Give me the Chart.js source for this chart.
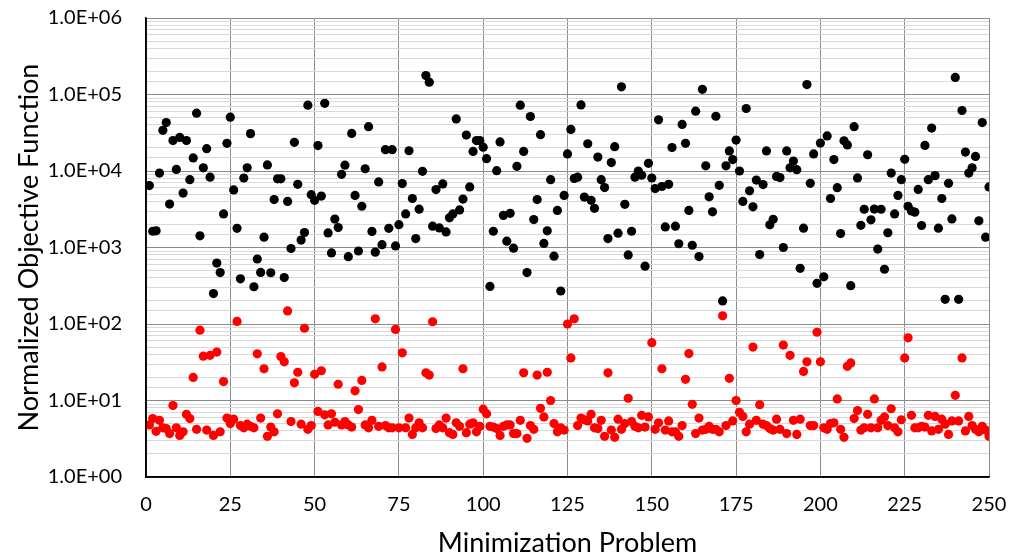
<!DOCTYPE html>
<html>
<head>
<meta charset="utf-8">
<script src="https://cdn.jsdelivr.net/npm/chart.js@4.4.1/dist/chart.umd.min.js"></script>
<style>
  html, body { margin: 0; padding: 0; background: #fff; }
  #wrap { width: 1010px; height: 559px; }
</style>
</head>
<body>
<div id="wrap"><canvas id="chart" width="1010" height="559"></canvas></div>
<script>
// problems 1..250, objective values per problem (two runs)
const objBlack = [
  6450, 1630, 1650, 9400, 34000, 43000, 3700, 25000, 10500, 27500,
  5150, 25000, 7700, 14800, 57000, 1420, 11000, 19600, 8300, 250,
  625, 470, 2750, 23000, 50500, 5650, 1780, 390, 8100, 11000,
  30800, 307, 707, 472, 1365, 12000, 468, 4230, 7900, 7900,
  405, 4000, 970, 23700, 6700, 1250, 1570, 72600, 4900, 4140,
  21500, 4700, 76600, 1550, 850, 2350, 1820, 9060, 11900, 758,
  31000, 4800, 900, 3460, 10700, 38000, 1620, 870, 7200, 1090,
  19000, 1780, 19000, 1050, 1990, 6840, 2750, 18400, 4370, 1310,
  3170, 9900, 177000, 145000, 1900, 5720, 1800, 6770, 1600, 2440,
  2750, 48000, 3100, 4300, 29500, 6200, 18000, 25000, 25000, 20500,
  14500, 310, 1630, 10100, 24000, 2630, 1210, 2800, 980, 11500,
  72600, 18000, 470, 51600, 2320, 4230, 29800, 1130, 1650, 7700,
  770, 3050, 270, 4800, 16700, 35000, 8000, 8300, 73000, 4560,
  22700, 4140, 3250, 15200, 7700, 6080, 1310, 12900, 20800, 1540,
  126000, 3670, 800, 1630, 8300, 10000, 8800, 570, 12600, 8100,
  5900, 46600, 6270, 1860, 6700, 20300, 1900, 1120, 40600, 23000,
  3050, 1070, 60600, 760, 117000, 11700, 4590, 2930, 52000, 6500,
  200, 11700, 18300, 14100, 25400, 10000, 4000, 65600, 5500, 3400,
  7600, 810, 6640, 18300, 1980, 2340, 8500, 8200, 1000, 18300,
  11000, 13500, 10400, 535, 1790, 135000, 6900, 16700, 340, 23200,
  414, 28700, 4370, 14100, 6060, 1520, 24800, 21900, 317, 38000,
  8130, 1950, 3160, 16300, 2300, 3180, 955, 3160, 520, 1560,
  9400, 2750, 4800, 7700, 14200, 3450, 3000, 2900, 5750, 1940,
  21600, 7700, 36400, 8700, 1790, 4370, 210, 6900, 2360, 167000,
  210, 61800, 17700, 9400, 11000, 15500, 2230, 42900, 1365, 6200
];

const objRed = [
  4.8, 5.8, 3.95, 5.5, 4.4, 4.3, 3.7, 8.6, 4.4, 3.5,
  3.9, 6.6, 5.8, 20, 4.2, 83, 38, 4.1, 39, 3.5,
  43, 3.9, 17.7, 5.9, 5.0, 5.7, 108, 4.7, 4.4, 4.9,
  4.6, 4.4, 40.7, 5.9, 26, 3.4, 4.5, 3.9, 6.7, 37.5,
  32, 148, 5.3, 17, 23.4, 4.9, 88, 4.2, 4.7, 22,
  7.2, 24.5, 6.5, 4.8, 6.7, 5.2, 16.3, 4.8, 5.3, 4.8,
  4.5, 13.4, 7.6, 18.3, 4.8, 4.4, 5.5, 117, 4.6, 27.5,
  4.7, 4.4, 4.4, 85, 4.4, 42, 4.4, 5.9, 3.6, 4.4,
  5.1, 4.4, 23, 21.5, 107, 4.3, 4.8, 4.4, 5.9, 3.8,
  3.6, 5.1, 4.6, 26, 3.8, 4.9, 5.1, 3.9, 4.6, 7.7,
  6.7, 4.6, 4.5, 4.3, 3.5, 4.6, 4.8, 4.8, 3.7, 3.7,
  5.5, 23, 3.2, 4.7, 4.2, 21.5, 7.9, 6.1, 23.4, 10,
  5.0, 3.9, 4.4, 4.1, 100, 36, 117, 4.7, 5.9, 5.6,
  5.4, 6.6, 4.4, 4.3, 5.5, 3.4, 23, 4.1, 3.3, 5.7,
  4.2, 5.0, 10.7, 5.3, 4.6, 4.4, 6.4, 4.5, 6.1, 57,
  4.2, 5.1, 26, 4.1, 5.4, 3.9, 3.9, 3.4, 4.7, 18.9,
  41, 8.9, 3.7, 5.9, 4.1, 4.2, 4.6, 4.2, 4.2, 3.9,
  128, 4.7, 19.5, 5.4, 10, 7.0, 6.2, 3.9, 4.9, 50,
  5.5, 8.8, 4.9, 4.7, 4.3, 4.1, 5.7, 4.2, 53, 3.7,
  39, 5.5, 3.6, 5.7, 24, 32, 4.7, 4.7, 78, 32,
  4.4, 4.2, 5.0, 5.1, 10.5, 4.2, 3.3, 28, 31, 5.8,
  7.4, 4.1, 4.4, 6.6, 4.4, 10.5, 4.4, 5.5, 6.1, 4.7,
  7.8, 4.4, 3.9, 5.6, 36, 66, 6.4, 4.4, 4.4, 4.6,
  4.5, 6.4, 4.0, 6.2, 4.2, 5.7, 4.9, 3.6, 5.4, 11.7,
  5.4, 36, 4.0, 6.2, 4.7, 4.2, 3.9, 4.6, 4.1, 3.4
];

const xTicks = [0, 25, 50, 75, 100, 125, 150, 175, 200, 225, 250];
const yDecades = [1, 10, 100, 1000, 10000, 100000, 1000000];

function toPoints(values) {
  return values.map((v, i) => ({ x: i + 1, y: v }));
}

// 1.0E+06 style labels
function sciLabel(v) {
  const e = Math.round(Math.log10(v));
  const m = v / Math.pow(10, e);
  return m.toFixed(1) + 'E' + (e < 0 ? '-' : '+') + String(Math.abs(e)).padStart(2, '0');
}

function isDecade(v) {
  return yDecades.some(d => Math.abs(d - v) / d < 1e-9);
}

const FONT = 'Lato, "Open Sans", sans-serif';

const frame = {
  id: 'frame',
  afterDraw(chart) {
    const a = chart.chartArea, c = chart.ctx;
    c.save();
    c.strokeStyle = '#000';
    c.lineWidth = 1.5;
    c.beginPath();
    c.moveTo(a.left, a.top);
    c.lineTo(a.left, a.bottom);
    c.lineTo(a.right, a.bottom);
    c.stroke();
    c.restore();
  }
};

new Chart(document.getElementById('chart'), {
  type: 'scatter',
  data: {
    datasets: [
      {
        label: 'black',
        data: toPoints(objBlack),
        backgroundColor: '#000000',
        borderColor: '#000000',
        pointRadius: 4.6,
        pointBorderWidth: 0
      },
      {
        label: 'red',
        data: toPoints(objRed),
        backgroundColor: '#ff0000',
        borderColor: '#ff0000',
        pointRadius: 4.6,
        pointBorderWidth: 0
      }
    ]
  },
  options: {
    responsive: false,
    animation: false,
    layout: { padding: { top: 18, right: 21, left: 0, bottom: 0 } },
    plugins: {
      legend: { display: false },
      tooltip: { enabled: false }
    },
    scales: {
      x: {
        type: 'linear',
        min: 0,
        max: 250,
        afterBuildTicks: s => { s.ticks = xTicks.map(v => ({ value: v })); },
        afterFit: s => {
          s.height = 82;
          s.paddingLeft = 0;
          s.paddingRight = 0;
        },
        ticks: { color: '#000', font: { family: FONT, size: 20 }, padding: 16, maxRotation: 0 },
        grid: { color: '#8c8c8c', lineWidth: 1, drawTicks: false },
        border: { color: '#000', width: 1.5 },
        title: {
          display: true,
          text: 'Minimization Problem',
          color: '#000',
          font: { family: FONT, size: 27 },
          padding: { top: 6, bottom: 0 }
        }
      },
      y: {
        type: 'logarithmic',
        min: 1,
        max: 1000000,
        afterFit: s => {
          s.width = 146;
          s.paddingTop = 0;
          s.paddingBottom = 0;
        },
        ticks: {
          autoSkip: false,
          color: '#000',
          font: { family: FONT, size: 20 },
          padding: 24,
          callback: v => isDecade(v) ? sciLabel(v) : ''
        },
        grid: {
          drawTicks: false,
          color: c => isDecade(c.tick.value) ? '#8c8c8c' : '#d9d9d9',
          lineWidth: 1
        },
        border: { color: '#000', width: 1.5 },
        title: {
          display: true,
          text: 'Normalized Objective Function',
          color: '#000',
          font: { family: FONT, size: 27 },
          padding: { top: 13, bottom: 6 }
        }
      }
    }
  },
  plugins: [frame]
});
</script>
</body>
</html>
